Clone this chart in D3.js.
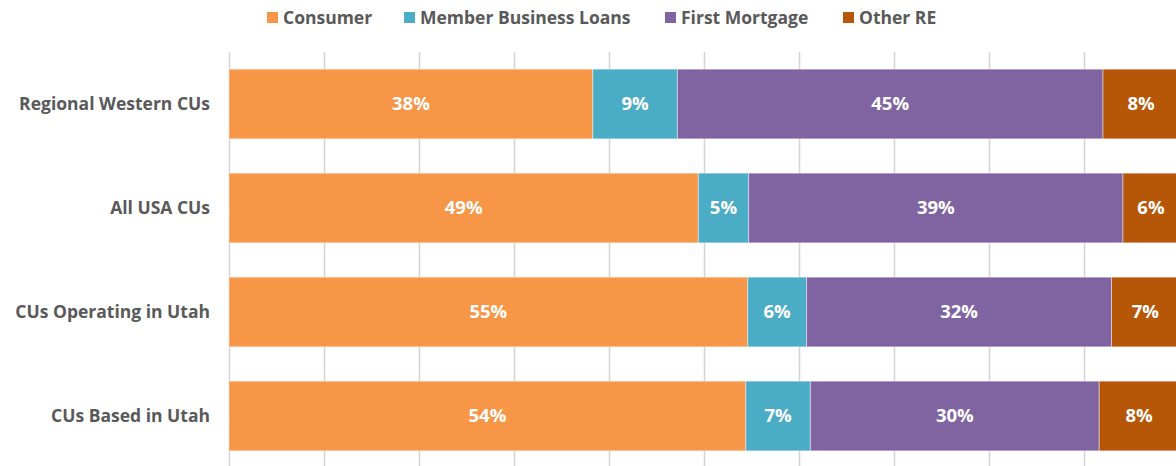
<!DOCTYPE html>
<html>
<head>
<script src="https://d3js.org/d3.v7.min.js"></script>
<style>
  body { margin: 0; background: #fff; font-family: 'Open Sans', sans-serif; }
  svg text { font-family: 'Open Sans', sans-serif; font-weight: 700; }
</style>
</head>
<body>
<svg width="1176" height="466"></svg>
<script>
// DATA ====================================================
const groups = ["Regional Western CUs", "All USA CUs", "CUs Operating in Utah", "CUs Based in Utah"];
const seriesNames = ["Consumer", "Member Business Loans", "First Mortgage", "Other RE"];
const consumer = [38.3, 49.4, 54.6, 54.4];
const memberBusiness = [8.9, 5.3, 6.2, 6.8];
const firstMortgage = [44.8, 39.4, 32.1, 30.4];
const otherRE = [8.0, 5.9, 7.1, 8.4];
const colors = ["#F79646", "#4BACC6", "#8064A2", "#B65708"];
const xTicks = [0, 10, 20, 30, 40, 50, 60, 70, 80, 90, 100];

const rows = groups.map((g, i) => ({
    group: g,
    "Consumer": consumer[i],
    "Member Business Loans": memberBusiness[i],
    "First Mortgage": firstMortgage[i],
    "Other RE": otherRE[i]
}));

// LAYOUT ==================================================
const svg = d3.select("svg");
const plotLeft = 229, plotRight = 1179, plotTop = 52, plotBottom = 468;

const x = d3.scaleLinear().domain([0, 100]).range([plotLeft, plotRight]);
const y = d3.scaleBand().domain(groups).range([plotTop, plotBottom])
    .paddingInner(0.33).paddingOuter(0.165);
const color = d3.scaleOrdinal().domain(seriesNames).range(colors);

// gridlines
svg.append("g")
    .selectAll("line")
    .data(xTicks)
    .join("line")
    .attr("x1", d => x(d) + 0.5)
    .attr("x2", d => x(d) + 0.5)
    .attr("y1", plotTop)
    .attr("y2", 466)
    .attr("stroke", "#d4d4d4")
    .attr("stroke-width", 1.5);

// stacked bars
const stack = d3.stack().keys(seriesNames)(rows);

const layer = svg.append("g")
    .selectAll("g")
    .data(stack)
    .join("g")
    .attr("fill", d => color(d.key));

layer.selectAll("rect")
    .data(d => d)
    .join("rect")
    .attr("x", d => x(d[0]))
    .attr("width", d => x(d[1]) - x(d[0]))
    .attr("y", d => y(d.data.group))
    .attr("height", y.bandwidth())
    .attr("stroke", "#ffffff")
    .attr("stroke-opacity", 0.45)
    .attr("stroke-width", 1);

layer.selectAll("text")
    .data(d => d)
    .join("text")
    .attr("x", d => (x(d[0]) + x(d[1])) / 2)
    .attr("y", d => y(d.data.group) + y.bandwidth() / 2)
    .attr("dy", "0.35em")
    .attr("text-anchor", "middle")
    .attr("fill", "#fff")
    .attr("font-size", 18.5)
    .text(d => Math.round(d[1] - d[0]) + "%");

// category labels
svg.append("g")
    .selectAll("text")
    .data(groups)
    .join("text")
    .attr("x", 210)
    .attr("y", d => y(d) + y.bandwidth() / 2)
    .attr("dy", "0.35em")
    .attr("text-anchor", "end")
    .attr("fill", "#595959")
    .attr("font-size", 17.5)
    .text(d => d);

// legend
const legendX = [267, 404, 665, 843];
const legend = svg.append("g")
    .selectAll("g")
    .data(seriesNames)
    .join("g")
    .attr("transform", (d, i) => `translate(${legendX[i]},0)`);

legend.append("rect")
    .attr("x", 0)
    .attr("y", 12)
    .attr("width", 11)
    .attr("height", 11)
    .attr("fill", d => color(d));

legend.append("text")
    .attr("x", 16)
    .attr("y", 18)
    .attr("dy", "0.35em")
    .attr("fill", "#595959")
    .attr("font-size", 17.5)
    .text(d => d);
</script>
</body>
</html>
